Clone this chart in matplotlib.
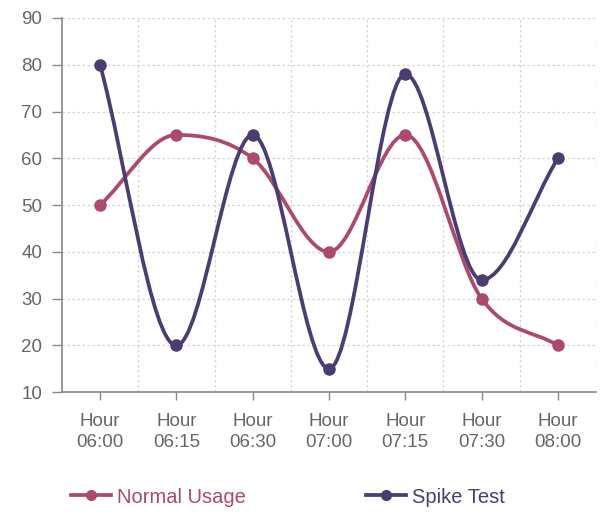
import numpy as np
import matplotlib
matplotlib.use("Agg")
from matplotlib import pyplot as plt
from matplotlib.path import Path
from matplotlib.patches import PathPatch
from matplotlib.lines import Line2D

hours = ["Hour\n06:00", "Hour\n06:15", "Hour\n06:30", "Hour\n07:00",
         "Hour\n07:15", "Hour\n07:30", "Hour\n08:00"]
normal_usage = [50, 65, 60, 40, 65, 30, 20]
spike_test = [80, 20, 65, 15, 78, 34, 60]

NORMAL_COLOR = "#ab4a6d"
SPIKE_COLOR = "#4b3c71"
GRID_COLOR = "#d4d4d4"
TEXT_COLOR = "#666666"

plt.rcParams['font.family'] = ['Liberation Sans', 'DejaVu Sans']


def monotone_path(xs, ys):
    # monotone cubic interpolation (Fritsch-Carlson, as in chart.js)
    x = np.asarray(xs, float)
    y = np.asarray(ys, float)
    n = len(x)
    delta = np.diff(y) / np.diff(x)
    m = np.zeros(n)
    m[0] = delta[0]
    m[-1] = delta[-1]
    for i in range(1, n - 1):
        if np.sign(delta[i-1]) != np.sign(delta[i]):
            m[i] = 0
        else:
            m[i] = (delta[i-1] + delta[i]) / 2
    for i in range(n - 1):
        if delta[i] == 0:
            m[i] = m[i+1] = 0
            continue
        a = m[i] / delta[i]
        b = m[i+1] / delta[i]
        mag = a * a + b * b
        if mag > 9:
            tau = 3 / np.sqrt(mag)
            m[i] = a * tau * delta[i]
            m[i+1] = b * tau * delta[i]
    verts = [(x[0], y[0])]
    codes = [Path.MOVETO]
    for i in range(n - 1):
        dx = (x[i+1] - x[i]) / 3
        verts += [(x[i] + dx, y[i] + dx * m[i]),
                  (x[i+1] - dx, y[i+1] - dx * m[i+1]),
                  (x[i+1], y[i+1])]
        codes += [Path.CURVE4] * 3
    return Path(verts, codes)


fig = plt.figure(figsize=(6.07, 5.14), dpi=100)
ax = fig.add_axes([0.102, 0.237, 0.880, 0.728])

x = np.arange(len(hours))
ax.set_xlim(-0.5, len(hours) - 0.5)
ax.set_ylim(10, 90)

for vals, col in [(normal_usage, NORMAL_COLOR), (spike_test, SPIKE_COLOR)]:
    ax.add_patch(PathPatch(monotone_path(x, vals), facecolor="none",
                           edgecolor=col, lw=2.7, zorder=3, capstyle="round"))
    ax.plot(x, vals, "o", color=col, markersize=8, zorder=4)

ax.set_yticks(np.arange(10, 91, 10))
ax.set_xticks(x)
ax.set_xticklabels(hours)
ax.set_xticks(np.arange(0.5, len(hours) - 0.4, 1), minor=True)
ax.tick_params(axis="x", which="minor", length=0)
ax.tick_params(axis="both", which="major", colors="#888888", labelcolor=TEXT_COLOR,
               labelsize=13.5, length=7, width=1)
ax.tick_params(axis="x", which="major", pad=9, length=6)
ax.tick_params(axis="y", which="major", pad=7)
for lbl in ax.get_xticklabels():
    lbl.set_linespacing(1.3)

ax.grid(True, axis="y", which="major", color=GRID_COLOR, linestyle=(0, (2, 2)), lw=0.9)
ax.grid(True, axis="x", which="minor", color=GRID_COLOR, linestyle=(0, (2, 2)), lw=0.9)
ax.set_axisbelow(True)

for s in ["top", "right"]:
    ax.spines[s].set_visible(False)
for s in ["left", "bottom"]:
    ax.spines[s].set_color("#888888")
    ax.spines[s].set_linewidth(1.2)

handles = [Line2D([], [], color=NORMAL_COLOR, lw=2.7, marker="o", markersize=7),
           Line2D([], [], color=SPIKE_COLOR, lw=2.7, marker="o", markersize=7)]
fig.legend(handles, ["Normal Usage", "Spike Test"], loc="center left",
           bbox_to_anchor=(0.087, 0.033), ncol=2, frameon=False, fontsize=14.5,
           handlelength=2.0, handletextpad=0.3, columnspacing=5.95,
           labelcolor="linecolor")

fig.savefig("out.png", dpi=100, facecolor="white")
